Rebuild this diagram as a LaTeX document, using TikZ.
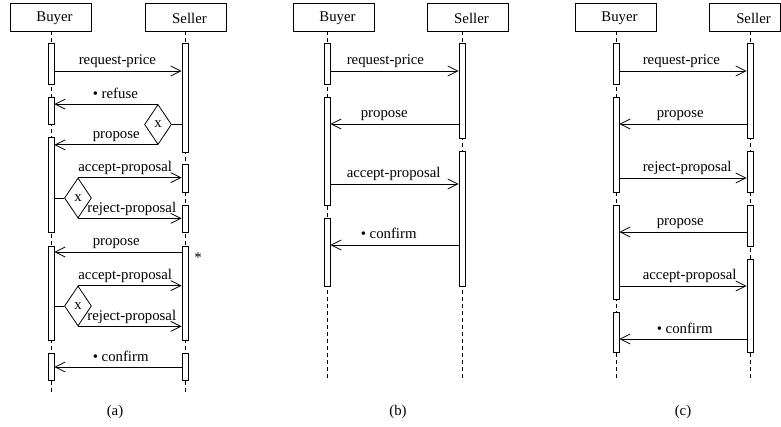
\documentclass[tikz,border=0pt]{standalone}
\usepackage{fontspec}
\setmainfont{Liberation Serif}
\usetikzlibrary{arrows.meta,shapes.geometric}

\tikzset{
  hdr/.style={draw, line width=0.8pt, minimum width=81pt, minimum height=28pt, inner sep=0pt},
  hdrtxt/.style={xshift=#1, yshift=-1.5pt, inner sep=0pt},
  hdrtxt/.default=4pt,
  lifeline/.style={line width=0.8pt, dash pattern=on 4pt off 3pt},
  bar/.style={draw, fill=white, line width=0.8pt, minimum width=6pt, inner sep=0pt},
  msg/.style={line width=0.8pt, -{Straight Barb[length=10pt,width=10pt]}},
  link/.style={line width=0.8pt},
  choice/.style={diamond, draw, fill=white, line width=0.8pt, minimum width=27pt, minimum height=40pt, inner sep=0pt},
  outlbl/.style={at start, anchor=base west, inner sep=0pt, xshift=#1, yshift=6pt},
  inlbl/.style={at end, anchor=base west, inner sep=0pt, xshift=#1, yshift=6pt},
}

\begin{document}
\begin{tikzpicture}[x=1pt, y=-1pt, font=\fontsize{14.8pt}{17pt}\selectfont]
  \useasboundingbox (0,0) rectangle (781,427);

  % (a)
  \node[hdr, label={[hdrtxt]center:Buyer}] (abuyer) at (50.5,17) {};
  \node[hdr, label={[hdrtxt]center:Seller}] (aseller) at (185.5,17) {};
  \coordinate (abuyerend) at (51,393);
  \coordinate (asellerend) at (185,393);
  \draw[lifeline] (abuyer.south -| abuyerend) -- (abuyerend);
  \draw[lifeline] (aseller.south -| asellerend) -- (asellerend);

  \node[bar, minimum height=41pt] (ab1) at (51,63.5) {};
  \node[bar, minimum height=27pt] (ab2) at (51,110.5) {};
  \node[bar, minimum height=95pt] (ab3) at (51,184.5) {};
  \node[bar, minimum height=94pt] (ab4) at (51,293) {};
  \node[bar, minimum height=27pt] (ab5) at (51,366.5) {};
  \node[bar, minimum height=109pt] (as1) at (185,97.5) {};
  \node[bar, minimum height=28pt] (as2) at (185,178) {};
  \node[bar, minimum height=27pt] (as3) at (185,218.5) {};
  \node[bar, minimum height=94pt] (as4) at (185,293) {};
  \node[bar, minimum height=27pt] (as5) at (185,366.5) {};

  \node[choice] (ad1) at (158,124.5) {x};
  \node[choice] (ad2) at (78,198) {x};
  \node[choice] (ad3) at (78,306) {x};

  \draw[msg] (ab1.east |- 0,71) -- (as1.west |- 0,71) node[outlbl=24pt] {request-price};
  \draw[msg] (ad1.north) -- (ab2.east |- ad1.north) node[inlbl=38pt] {\textbullet\ refuse};
  \draw[link] (as1.west |- ad1.east) -- (ad1.east);
  \draw[msg] (ad1.south) -- (ab3.east |- ad1.south) node[inlbl=38pt] {propose};
  \draw[link] (ab3.east |- ad2.west) -- (ad2.west);
  \draw[msg] (ad2.north) -- (as2.west |- ad2.north) node[outlbl=0pt] {accept-proposal};
  \draw[msg] (ad2.south) -- (as3.west |- ad2.south) node[outlbl=9pt] {reject-proposal};
  \draw[msg] (as4.west |- 0,252) -- (ab4.east |- 0,252) node[inlbl=38pt] {propose};
  \node (astar) at (198,258) {*};
  \draw[link] (ab4.east |- ad3.west) -- (ad3.west);
  \draw[msg] (ad3.north) -- (as4.west |- ad3.north) node[outlbl=0pt] {accept-proposal};
  \draw[msg] (ad3.south) -- (as4.west |- ad3.south) node[outlbl=9pt] {reject-proposal};
  \draw[msg] (as5.west |- 0,367) -- (ab5.east |- 0,367) node[inlbl=38pt] {\textbullet\ confirm};
  \node (acap) at (115,412) {(a)};

  % (b)
  \node[hdr, label={[hdrtxt]center:Buyer}] (bbuyer) at (333.5,17) {};
  \node[hdr, label={[hdrtxt]center:Seller}] (bseller) at (467.5,17) {};
  \coordinate (bbuyerend) at (327,378);
  \coordinate (bsellerend) at (462,378);
  \draw[lifeline] (bbuyer.south -| bbuyerend) -- (bbuyerend);
  \draw[lifeline] (bseller.south -| bsellerend) -- (bsellerend);

  \node[bar, minimum height=41pt] (bb1) at (327,63.5) {};
  \node[bar, minimum height=108pt] (bb2) at (327,151) {};
  \node[bar, minimum height=68pt] (bb3) at (327,252) {};
  \node[bar, minimum height=95pt] (bs1) at (462,90.5) {};
  \node[bar, minimum height=135pt] (bs2) at (462,218.5) {};

  \draw[msg] (bb1.east |- 0,71) -- (bs1.west |- 0,71) node[outlbl=16pt] {request-price};
  \draw[msg] (bs1.west |- 0,124) -- (bb2.east |- 0,124) node[inlbl=30pt] {propose};
  \draw[msg] (bb2.east |- 0,184) -- (bs2.west |- 0,184) node[outlbl=16pt] {accept-proposal};
  \draw[msg] (bs2.west |- 0,245) -- (bb3.east |- 0,245) node[inlbl=30pt] {\textbullet\ confirm};
  \node (bcap) at (398,412) {(b)};

  % (c)
  \node[hdr, label={[hdrtxt]center:Buyer}] (cbuyer) at (615.5,17) {};
  \node[hdr, minimum width=71pt, label={[hdrtxt=9pt]center:Seller}] (cseller) at (744.5,17) {};
  \coordinate (cbuyerend) at (616,379);
  \coordinate (csellerend) at (750,379);
  \draw[lifeline] (cbuyer.south -| cbuyerend) -- (cbuyerend);
  \draw[lifeline] (cseller.south -| csellerend) -- (csellerend);

  \node[bar, minimum height=41pt] (cb1) at (616,63.5) {};
  \node[bar, minimum height=95pt] (cb2) at (616,144.5) {};
  \node[bar, minimum height=94pt] (cb3) at (616,252) {};
  \node[bar, minimum height=40pt] (cb4) at (616,332) {};
  \node[bar, minimum height=95pt] (cs1) at (750,90.5) {};
  \node[bar, minimum height=41pt] (cs2) at (750,171.5) {};
  \node[bar, minimum height=41pt] (cs3) at (750,225.5) {};
  \node[bar, minimum height=93pt] (cs4) at (750,305.5) {};

  \draw[msg] (cb1.east |- 0,71) -- (cs1.west |- 0,71) node[outlbl=23pt] {request-price};
  \draw[msg] (cs1.west |- 0,124) -- (cb2.east |- 0,124) node[inlbl=37pt] {propose};
  \draw[msg] (cb2.east |- 0,178) -- (cs2.west |- 0,178) node[outlbl=23pt] {reject-proposal};
  \draw[msg] (cs3.west |- 0,232) -- (cb3.east |- 0,232) node[inlbl=37pt] {propose};
  \draw[msg] (cb3.east |- 0,286) -- (cs4.west |- 0,286) node[outlbl=23pt] {accept-proposal};
  \draw[msg] (cs4.west |- 0,339) -- (cb4.east |- 0,339) node[inlbl=37pt] {\textbullet\ confirm};
  \node (ccap) at (683,412) {(c)};
\end{tikzpicture}
\end{document}
